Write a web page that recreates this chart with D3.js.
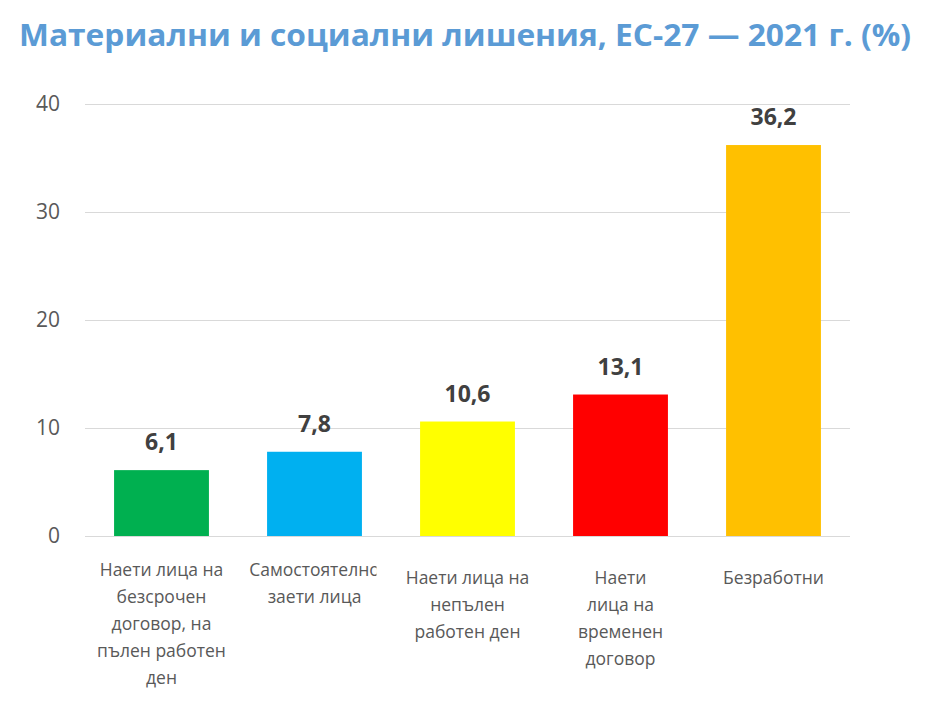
<!DOCTYPE html>
<html>
<head>
<meta charset="utf-8">
<script src="https://cdn.jsdelivr.net/npm/d3@7"></script>
<style>
  body { margin: 0; background: #fff; }
  svg { display: block; }
</style>
</head>
<body>
<div id="chart"></div>
<script>
// data
const categories = [
    ["Наети лица на", "безсрочен", "договор, на", "пълен работен", "ден"],
    ["Самостоятелно", "заети лица"],
    ["Наети лица на", "непълен", "работен ден"],
    ["Наети", "лица на", "временен", "договор"],
    ["Безработни"]
];
const values = [6.1, 7.8, 10.6, 13.1, 36.2];
const barColors = ["#00B050", "#00B0F0", "#FFFF00", "#FF0000", "#FFC000"];
const yTicks = [0, 10, 20, 30, 40];
const title = "Материални и социални лишения, ЕС-27 — 2021 г. (%)";

const width = 926, height = 708;
const marginLeft = 85, marginRight = 76, marginTop = 104, marginBottom = 172;

const svg = d3.select("#chart").append("svg")
    .attr("width", width)
    .attr("height", height);

const x = d3.scaleBand()
    .domain(d3.range(values.length))
    .range([marginLeft, width - marginRight])
    .paddingInner(0.38)
    .paddingOuter(0.19);

const y = d3.scaleLinear()
    .domain([0, 40])
    .range([height - marginBottom, marginTop]);

// title
svg.append("text")
    .attr("x", 465)
    .attr("y", 46)
    .attr("text-anchor", "middle")
    .attr("font-family", "'Liberation Sans Narrow', 'Open Sans', sans-serif")
    .attr("font-weight", "bold")
    .attr("font-size", 31)
    .attr("fill", "#5B9BD5")
    .attr("textLength", 892)
    .attr("lengthAdjust", "spacingAndGlyphs")
    .text(title);

// gridlines + y labels
const yAxis = svg.append("g")
    .attr("transform", `translate(${marginLeft},0)`)
    .call(d3.axisLeft(y).tickValues(yTicks).tickSize(-(width - marginLeft - marginRight)).tickPadding(25));
yAxis.select(".domain").remove();
yAxis.selectAll(".tick line").attr("stroke", "#D9D9D9").attr("stroke-width", 1.2);
yAxis.selectAll(".tick text")
    .attr("font-family", "'Open Sans', sans-serif")
    .attr("font-size", 21)
    .attr("fill", "#595959");

// bars
svg.append("g").selectAll("rect")
    .data(values)
    .join("rect")
    .attr("x", (d, i) => x(i))
    .attr("y", d => y(d))
    .attr("width", x.bandwidth())
    .attr("height", d => y(0) - y(d))
    .attr("fill", (d, i) => barColors[i]);

// value labels
svg.append("g").selectAll("text")
    .data(values)
    .join("text")
    .attr("x", (d, i) => x(i) + x.bandwidth() / 2)
    .attr("y", d => y(d) - 20)
    .attr("text-anchor", "middle")
    .attr("font-family", "'Open Sans', sans-serif")
    .attr("font-weight", "bold")
    .attr("font-size", 23)
    .attr("fill", "#404040")
    .text(d => d.toFixed(1).replace(".", ","));

// category labels; the long word in the second one is cut off like in the original
const defs = svg.append("defs");
categories.forEach((lines, i) => {
    const cx = x(i) + x.bandwidth() / 2;
    defs.append("clipPath").attr("id", "clip" + i)
        .append("rect")
        .attr("x", cx - 70).attr("y", y(0))
        .attr("width", 132).attr("height", marginBottom);
    const t = svg.append("text")
        .attr("clip-path", i === 1 ? `url(#clip${i})` : null)
        .attr("text-anchor", "middle")
        .attr("font-family", "'Open Sans', sans-serif")
        .attr("font-size", 17.5)
        .attr("fill", "#595959");
    const top = lines.length === 5 || lines.length === 2 ? 40 : 48;
    lines.forEach((s, k) => {
        t.append("tspan")
            .attr("x", cx)
            .attr("y", y(0) + top + k * 27)
            .text(s);
    });
});
</script>
</body>
</html>
